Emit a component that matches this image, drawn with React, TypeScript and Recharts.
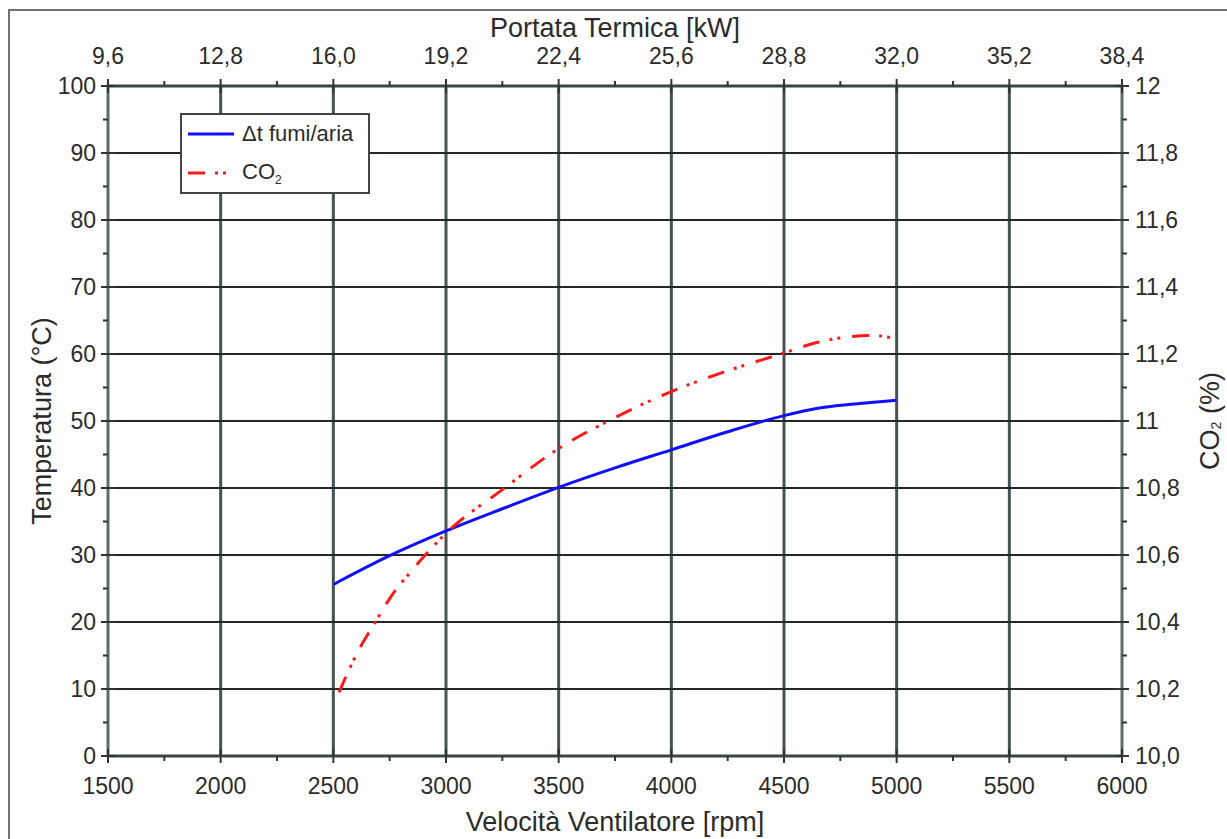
import { LineChart, Line, XAxis, YAxis, ReferenceLine, Legend, Label } from "recharts";

const FONT = "'Liberation Sans', Arial, Helvetica, sans-serif";
const TEXT = "#2b2b2b";
const GRID = "#485252";

// rpm axis (bottom), with minor ticks halfway
const rpmTicks = [1500, 1750, 2000, 2250, 2500, 2750, 3000, 3250, 3500, 3750, 4000, 4250, 4500, 4750, 5000, 5250, 5500, 5750, 6000];
const rpmGrid = [2000, 2500, 3000, 3500, 4000, 4500, 5000, 5500];
// top axis labels, one per major rpm tick
const kwLabels = ["9,6", "12,8", "16,0", "19,2", "22,4", "25,6", "28,8", "32,0", "35,2", "38,4"];

const tempTicks = [0, 5, 10, 15, 20, 25, 30, 35, 40, 45, 50, 55, 60, 65, 70, 75, 80, 85, 90, 95, 100];
const tempGrid = [10, 20, 30, 40, 50, 60, 70, 80, 90];

const co2Ticks = [10, 10.1, 10.2, 10.3, 10.4, 10.5, 10.6, 10.7, 10.8, 10.9, 11, 11.1, 11.2, 11.3, 11.4, 11.5, 11.6, 11.7, 11.8, 11.9, 12];
const co2Labels = ["10,0", "10,2", "10,4", "10,6", "10,8", "11", "11,2", "11,4", "11,6", "11,8", "12"];

// Δt fumi/aria
const dtRpm = [2500, 2750, 3000, 3250, 3500, 3750, 4000, 4250, 4500, 4650, 4800, 5000];
const dtValues = [25.6, 29.9, 33.6, 36.9, 40.1, 43.0, 45.7, 48.4, 50.8, 51.9, 52.5, 53.1];

// CO2
const co2Rpm = [2525, 2600, 2700, 2750, 2850, 3000, 3250, 3500, 3750, 4000, 4250, 4500, 4650, 4800, 4900, 5000];
const co2Values = [10.19, 10.3, 10.415, 10.47, 10.555, 10.665, 10.795, 10.918, 11.01, 11.088, 11.15, 11.203, 11.235, 11.252, 11.255, 11.245];

const dtData = dtRpm.map((rpm, i) => ({ rpm, t: dtValues[i] }));
const co2Data = co2Rpm.map((rpm, i) => ({ rpm, co2: co2Values[i] }));

const tickText = { fontFamily: FONT, fontSize: 23, fill: TEXT };

const BottomTick = ({ x, y, payload }: any) => {
  const v = payload.value;
  const major = v % 500 === 0;
  return (
    <g>
      <line x1={x} x2={x} y1={major ? y - 7 : y} y2={major ? y + 7 : y + 5} stroke="#333" strokeWidth={2} />
      {major && (
        <text x={x} y={y + 30} textAnchor="middle" dominantBaseline="central" {...tickText}>
          {v}
        </text>
      )}
    </g>
  );
};

const TopTick = ({ x, y, payload }: any) => {
  const v = payload.value;
  const major = v % 500 === 0;
  return (
    <g>
      <line x1={x} x2={x} y1={major ? y - 7 : y - 5} y2={major ? y + 7 : y} stroke="#333" strokeWidth={2} />
      {major && (
        <text x={x} y={y - 30} textAnchor="middle" dominantBaseline="central" {...tickText}>
          {kwLabels[(v - 1500) / 500]}
        </text>
      )}
    </g>
  );
};

const LeftTick = ({ x, y, payload }: any) => {
  const v = payload.value;
  const major = v % 10 === 0;
  return (
    <g>
      <line x1={major ? x - 7 : x - 5} x2={major ? x + 7 : x} y1={y} y2={y} stroke="#333" strokeWidth={2} />
      {major && (
        <text x={x - 12} y={y} textAnchor="end" dominantBaseline="central" {...tickText}>
          {v}
        </text>
      )}
    </g>
  );
};

const RightTick = ({ x, y, payload }: any) => {
  const n = Math.round((payload.value - 10) * 10);
  const major = n % 2 === 0;
  return (
    <g>
      <line x1={major ? x - 7 : x} x2={major ? x + 7 : x + 5} y1={y} y2={y} stroke="#333" strokeWidth={2} />
      {major && (
        <text x={x + 13} y={y} textAnchor="start" dominantBaseline="central" {...tickText}>
          {co2Labels[n / 2]}
        </text>
      )}
    </g>
  );
};

const titleStyle = { fontFamily: FONT, fontSize: 27, fill: TEXT };

const LegendBox = () => (
  <div
    style={{
      width: 186,
      height: 77,
      border: "2px solid #444",
      background: "#fff",
      fontFamily: FONT,
      fontSize: 22,
      color: TEXT,
    }}
  >
    <div style={{ display: "flex", alignItems: "center", height: 38 }}>
      <svg width={60} height={10}>
        <line x1={6} x2={52} y1={5} y2={5} stroke="#1010ff" strokeWidth={3} />
      </svg>
      <span>Δt fumi/aria</span>
    </div>
    <div style={{ display: "flex", alignItems: "center", height: 40 }}>
      <svg width={60} height={10}>
        <line x1={6} x2={52} y1={5} y2={5} stroke="#ff1a1a" strokeWidth={3} strokeDasharray="17 10 3 5 3 12" />
      </svg>
      <span>
        CO<sub style={{ fontSize: 12 }}>2</sub>
      </span>
    </div>
  </div>
);

export default function App() {
  return (
    <div
      style={{
        position: "absolute",
        left: 8,
        top: 9,
        width: 1217,
        height: 828,
        borderTop: "2px solid #6b7373",
        borderLeft: "2px solid #6b7373",
        background: "#fff",
      }}
    >
      <LineChart width={1217} height={828} margin={{ top: 0, right: 0, bottom: 0, left: 0 }}>
        <XAxis
          xAxisId="bottom"
          dataKey="rpm"
          type="number"
          domain={[1500, 6000]}
          ticks={rpmTicks}
          interval={0}
          height={83}
          tickSize={0}
          tickMargin={0}
          tickLine={false}
          tick={<BottomTick />}
          axisLine={{ stroke: "#3b4545", strokeWidth: 3 }}
          allowDataOverflow
        >
          <Label
            content={({ viewBox }: any) => (
              <text x={viewBox.x + viewBox.width / 2} y={viewBox.y + 75} textAnchor="middle" {...titleStyle}>
                Velocità Ventilatore [rpm]
              </text>
            )}
          />
        </XAxis>
        <XAxis
          xAxisId="top"
          orientation="top"
          dataKey="rpm"
          type="number"
          domain={[1500, 6000]}
          ticks={rpmTicks}
          interval={0}
          height={75}
          tickSize={0}
          tickMargin={0}
          tickLine={false}
          tick={<TopTick />}
          axisLine={{ stroke: "#3b4545", strokeWidth: 3 }}
          allowDataOverflow
        >
          <Label
            content={({ viewBox }: any) => (
              <text x={viewBox.x + viewBox.width / 2} y={viewBox.y + 26} textAnchor="middle" {...titleStyle}>
                Portata Termica [kW]
              </text>
            )}
          />
        </XAxis>
        <YAxis
          yAxisId="temp"
          type="number"
          domain={[0, 100]}
          ticks={tempTicks}
          interval={0}
          width={98}
          tickSize={0}
          tickMargin={0}
          tickLine={false}
          tick={<LeftTick />}
          axisLine={{ stroke: "#5f6a6a", strokeWidth: 3 }}
          allowDataOverflow
        >
          <Label
            content={({ viewBox }: any) => {
              const cx = 32;
              const cy = viewBox.y + viewBox.height / 2;
              return (
                <text x={cx} y={cy} textAnchor="middle" dominantBaseline="central" transform={`rotate(-90 ${cx} ${cy})`} {...titleStyle}>
                  Temperatura (°C)
                </text>
              );
            }}
          />
        </YAxis>
        <YAxis
          yAxisId="co2"
          orientation="right"
          type="number"
          domain={[10, 12]}
          ticks={co2Ticks}
          interval={0}
          width={105}
          tickSize={0}
          tickMargin={0}
          tickLine={false}
          tick={<RightTick />}
          axisLine={{ stroke: "#5f6a6a", strokeWidth: 3 }}
          allowDataOverflow
        >
          <Label
            content={({ viewBox }: any) => {
              const cx = viewBox.x + 88;
              const cy = viewBox.y + viewBox.height / 2;
              return (
                <text x={cx} y={cy} textAnchor="middle" dominantBaseline="central" transform={`rotate(-90 ${cx} ${cy})`} {...titleStyle}>
                  CO<tspan fontSize={14} dy={6}>2</tspan>
                  <tspan dy={-6}> (%)</tspan>
                </text>
              );
            }}
          />
        </YAxis>

        {rpmGrid.map((v) => (
          <ReferenceLine key={`x${v}`} xAxisId="bottom" yAxisId="temp" x={v} stroke={GRID} strokeWidth={3} />
        ))}
        {tempGrid.map((v) => (
          <ReferenceLine key={`y${v}`} xAxisId="bottom" yAxisId="temp" y={v} stroke="#222828" strokeWidth={2} />
        ))}

        <Line
          xAxisId="bottom"
          yAxisId="temp"
          data={dtData}
          dataKey="t"
          name="Δt fumi/aria"
          type="monotone"
          stroke="#1010ff"
          strokeWidth={3}
          dot={false}
          isAnimationActive={false}
        />
        <Line
          xAxisId="bottom"
          yAxisId="co2"
          data={co2Data}
          dataKey="co2"
          name="CO2"
          type="monotone"
          stroke="#ff1a1a"
          strokeWidth={3}
          strokeDasharray="17 10 3 5 3 12"
          dot={false}
          isAnimationActive={false}
        />
        <Legend
          layout="horizontal"
          align="center"
          verticalAlign="middle"
          content={() => <LegendBox />}
          wrapperStyle={{ position: "absolute", left: 170, top: 102, width: 190, height: 81 }}
        />
      </LineChart>
    </div>
  );
}
